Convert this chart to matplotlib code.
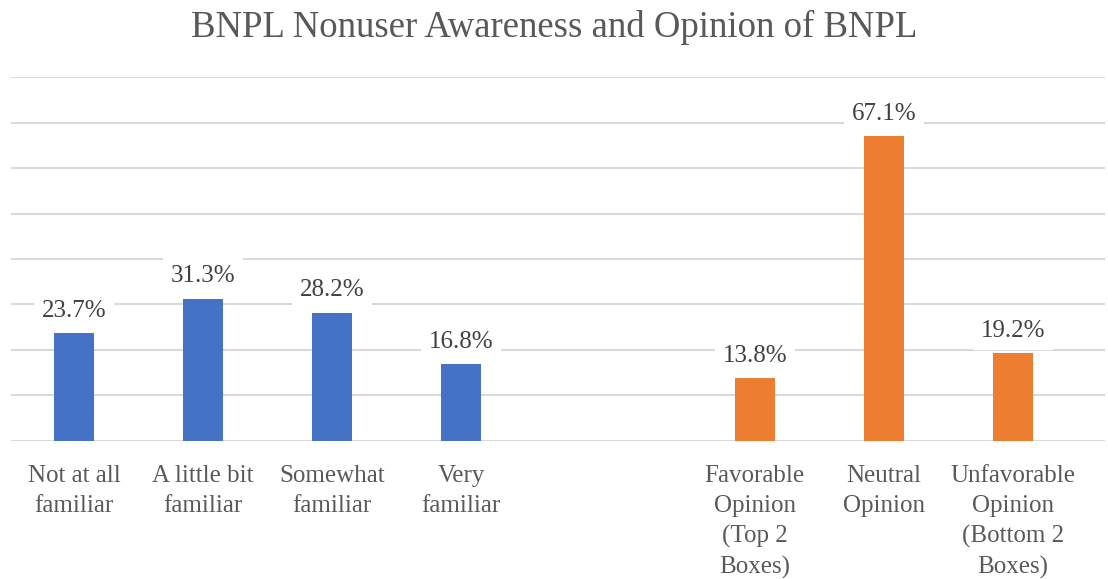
import numpy as np
import matplotlib
matplotlib.use("Agg")
import matplotlib.pyplot as plt

aware_labels = ["Not at all\nfamiliar", "A little bit\nfamiliar", "Somewhat\nfamiliar", "Very\nfamiliar"]
aware_vals = [23.7, 31.3, 28.2, 16.8]
opinion_labels = ["Favorable\nOpinion\n(Top 2\nBoxes)", "Neutral\nOpinion", "Unfavorable\nOpinion\n(Bottom 2\nBoxes)"]
opinion_vals = [13.8, 67.1, 19.2]

BLUE = "#4472C4"
ORANGE = "#ED7D31"
FONT = ['Liberation Serif', 'DejaVu Serif']
plt.rcParams['font.family'] = FONT

fig = plt.figure(figsize=(11.08, 5.79), dpi=100)
ax = fig.add_axes([0.0099, 0.2389, 0.9874, 0.6276])

x_aware = np.arange(len(aware_vals))
x_op = x_aware[-1] + 2.277 + np.arange(len(opinion_vals))
w = 0.31

b1 = ax.bar(x_aware, aware_vals, w, color=BLUE, zorder=3)
b2 = ax.bar(x_op, opinion_vals, w, color=ORANGE, zorder=3)

for bars in (b1, b2):
    for r in bars:
        h = r.get_height()
        ax.annotate("{:.1f}%".format(h), (r.get_x() + r.get_width() / 2, h),
                    xytext=(0, 8), textcoords="offset points",
                    ha="center", va="bottom", fontsize=18, color="#404040",
                    family=FONT,
                    bbox=dict(boxstyle="square,pad=0.3", fc="white", ec="none"),
                    zorder=4)

ax.set_ylim(0, 80)
ax.set_xlim(-0.488, 7.992)
ax.set_yticks(np.arange(0, 81, 10))
ax.yaxis.grid(True, color="#D9D9D9", lw=1.5, zorder=0)
ax.tick_params(axis="y", left=False, labelleft=False)
ax.set_xticks(list(x_aware) + list(x_op))
ax.set_xticklabels(aware_labels + opinion_labels, fontsize=18, color="#595959",
                   linespacing=1.45, va="top", family=FONT)
ax.tick_params(axis="x", length=0, pad=17.5)
for s in ax.spines.values():
    s.set_visible(False)

fig.text(0.5, 1 - 27 / 579, "BNPL Nonuser Awareness and Opinion of BNPL",
         ha="center", va="center", fontsize=26.5, color="#595959", family=FONT)

fig.savefig("out.png", dpi=100)
